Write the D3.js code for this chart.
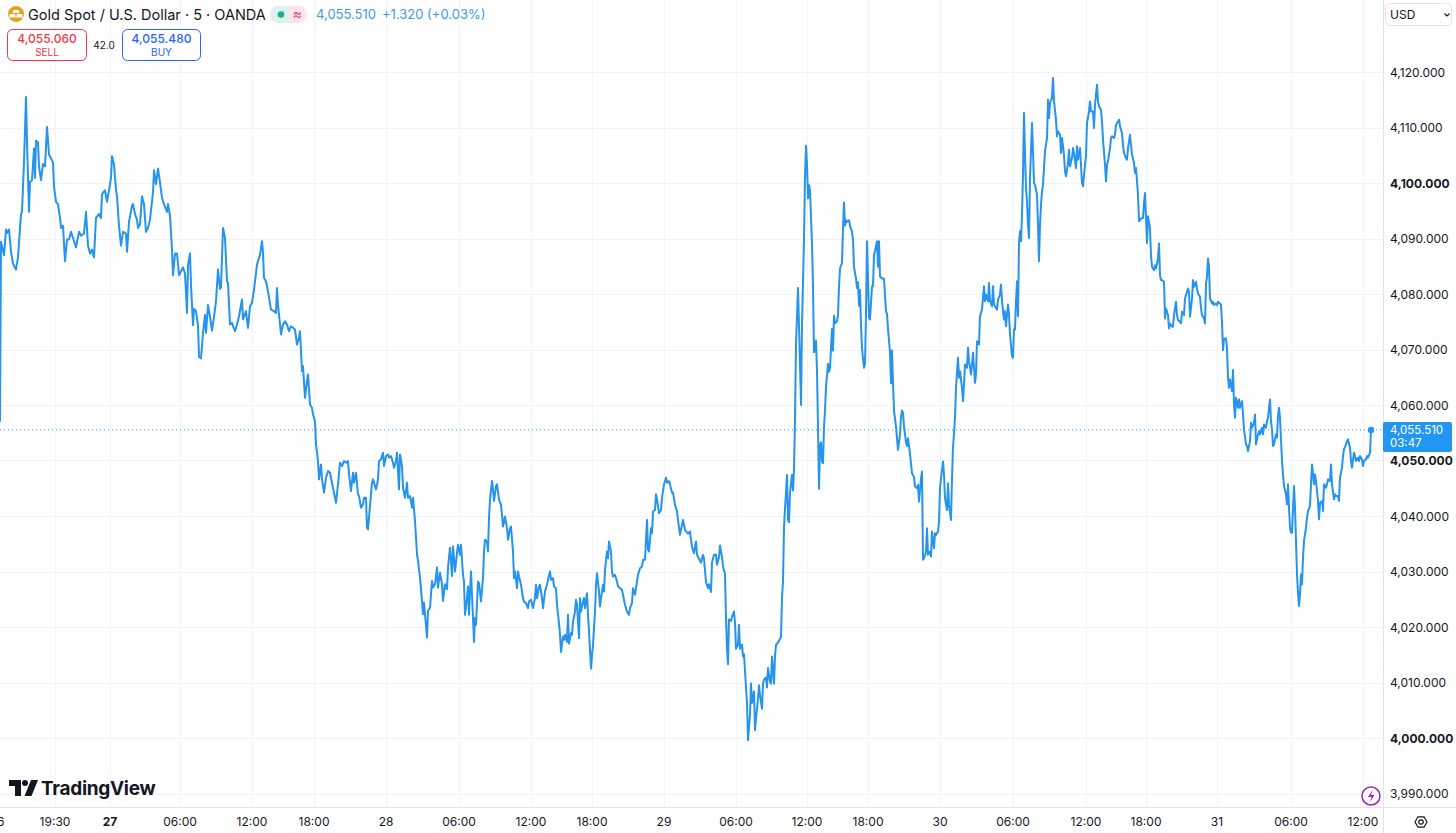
<!DOCTYPE html>
<html>
<head>
<meta charset="utf-8">
<script src="https://cdn.jsdelivr.net/npm/d3@7"></script>
<style>
  body { margin: 0; background: #fff; overflow: hidden; }
  svg { display: block; font-family: Inter, "Noto Sans", sans-serif; }
</style>
</head>
<body>
<div id="chart"></div>
<script>
// time axis: labels and the 5-minute bar they sit on (bar 0 = first visible bar)
const tickLabels = ["26", "19:30", "27", "06:00", "12:00", "18:00", "28", "06:00", "12:00", "18:00",
  "29", "06:00", "12:00", "18:00", "30", "06:00", "12:00", "18:00", "31", "06:00", "12:00"];
const tickBars = [-3, 55, 110, 180, 252, 314, 386, 459, 531, 592,
  664, 736, 807, 868, 940, 1013, 1086, 1146, 1217, 1291, 1363];
const boldTicks = ["27"];

const priceTicks = [3990, 4000, 4010, 4020, 4030, 4040, 4050, 4060, 4070, 4080, 4090, 4100, 4110, 4120];
const boldPrices = [4000, 4050, 4100];

// XAUUSD 5m closes
const bars = [
  0, 1, 4, 6, 7, 9, 11, 13, 16, 18, 21, 22, 24, 26, 27, 29, 30, 32, 34, 35, 36, 38, 39, 41, 43, 45, 47, 49, 50, 53,
  54, 56, 58, 60, 61, 63, 65, 67, 69, 71, 73, 76, 79, 81, 84, 86, 88, 90, 92, 94, 96, 99, 101, 102, 105, 107, 109, 111, 112, 114,
  116, 117, 119, 121, 123, 126, 127, 129, 132, 133, 135, 137, 138, 140, 142, 144, 146, 148, 150, 153, 154, 156, 158, 160, 162, 164, 167, 168, 170, 172,
  173, 175, 177, 179, 181, 183, 185, 187, 188, 190, 191, 193, 194, 196, 198, 199, 201, 203, 205, 206, 208, 210, 212, 214, 216, 218, 220, 221, 223, 225,
  227, 228, 230, 232, 233, 235, 237, 239, 242, 243, 246, 248, 250, 252, 254, 257, 258, 260, 262, 263, 264, 266, 268, 271, 274, 276, 277, 278, 280, 281,
  283, 285, 287, 289, 291, 293, 295, 297, 299, 300, 302, 303, 305, 307, 308, 310, 312, 313, 315, 316, 318, 319, 321, 322, 324, 326, 328, 330, 332, 334,
  336, 338, 340, 342, 344, 346, 348, 349, 351, 353, 354, 356, 358, 359, 361, 363, 364, 366, 367, 368, 370, 372, 373, 376, 378, 379, 381, 383, 384, 386,
  388, 389, 391, 393, 394, 396, 397, 399, 400, 402, 403, 405, 407, 408, 410, 412, 413, 415, 417, 418, 420, 422, 423, 424, 425, 427, 428, 430, 432, 433,
  435, 437, 438, 440, 442, 443, 445, 447, 448, 450, 452, 453, 454, 455, 457, 458, 460, 461, 463, 464, 465, 467, 468, 469, 470, 471, 473, 474, 475, 476,
  478, 479, 481, 483, 484, 485, 487, 488, 489, 490, 492, 493, 494, 496, 497, 499, 501, 502, 503, 505, 507, 508, 510, 511, 513, 514, 515, 517, 518, 519,
  521, 523, 524, 526, 528, 529, 531, 533, 535, 536, 537, 539, 540, 542, 543, 545, 547, 548, 550, 551, 553, 554, 556, 557, 559, 560, 561, 563, 564, 565,
  567, 568, 569, 571, 572, 573, 575, 576, 577, 579, 580, 581, 583, 584, 585, 587, 588, 589, 591, 592, 593, 595, 596, 597, 599, 600, 601, 603, 604, 605,
  607, 608, 609, 611, 612, 613, 615, 617, 618, 620, 622, 623, 625, 627, 629, 630, 632, 633, 635, 637, 638, 640, 642, 643, 645, 647, 648, 649, 651, 652,
  653, 655, 656, 657, 659, 661, 662, 664, 666, 667, 669, 670, 672, 673, 675, 677, 678, 680, 682, 683, 685, 688, 690, 692, 694, 696, 697, 699, 701, 703,
  704, 706, 708, 709, 711, 712, 714, 716, 717, 719, 720, 722, 723, 725, 726, 727, 728, 729, 731, 732, 734, 735, 736, 738, 739, 740, 742, 743, 744, 746,
  747, 748, 750, 751, 752, 754, 755, 756, 758, 759, 760, 762, 763, 764, 766, 767, 768, 770, 771, 772, 774, 775, 776, 778, 779, 781, 782, 783, 784, 785,
  786, 787, 788, 789, 790, 792, 793, 794, 795, 796, 798, 799, 800, 801, 802, 804, 805, 806, 807, 808, 809, 810, 812, 813, 814, 816, 817, 818, 819, 820,
  821, 822, 823, 824, 825, 826, 828, 829, 830, 832, 833, 834, 835, 837, 838, 839, 840, 842, 843, 844, 845, 846, 847, 849, 850, 852, 853, 854, 856, 857,
  858, 859, 860, 861, 862, 864, 865, 866, 867, 868, 869, 870, 872, 873, 874, 875, 877, 878, 879, 880, 882, 883, 884, 886, 887, 888, 890, 891, 892, 893,
  894, 896, 897, 898, 900, 901, 902, 903, 904, 906, 907, 908, 910, 911, 912, 914, 915, 917, 918, 919, 921, 922, 923, 924, 926, 927, 928, 930, 931, 932,
  934, 935, 936, 938, 939, 940, 941, 943, 944, 945, 947, 948, 949, 951, 952, 953, 955, 956, 958, 959, 960, 962, 963, 964, 965, 967, 968, 969, 971, 972,
  973, 975, 976, 977, 979, 980, 981, 982, 984, 985, 986, 988, 989, 990, 992, 993, 994, 996, 997, 998, 1000, 1001, 1002, 1004, 1005, 1006, 1008, 1009, 1010, 1012,
  1013, 1014, 1015, 1016, 1017, 1018, 1019, 1020, 1021, 1022, 1023, 1024, 1025, 1026, 1027, 1028, 1029, 1030, 1032, 1033, 1034, 1035, 1037, 1038, 1039, 1040, 1041, 1042, 1043, 1045,
  1046, 1047, 1048, 1049, 1050, 1052, 1053, 1054, 1056, 1057, 1058, 1060, 1061, 1062, 1064, 1065, 1066, 1068, 1069, 1070, 1072, 1073, 1074, 1076, 1077, 1078, 1080, 1081, 1082, 1083,
  1085, 1086, 1087, 1089, 1090, 1091, 1093, 1094, 1095, 1097, 1098, 1099, 1101, 1102, 1103, 1105, 1106, 1107, 1108, 1110, 1111, 1112, 1114, 1115, 1116, 1118, 1119, 1120, 1122, 1123,
  1124, 1126, 1127, 1128, 1130, 1131, 1132, 1134, 1135, 1136, 1138, 1139, 1140, 1142, 1143, 1144, 1145, 1146, 1147, 1148, 1150, 1151, 1152, 1154, 1155, 1156, 1158, 1159, 1160, 1161,
  1162, 1164, 1165, 1166, 1168, 1169, 1170, 1172, 1173, 1174, 1176, 1177, 1178, 1180, 1181, 1182, 1184, 1185, 1186, 1188, 1189, 1190, 1192, 1193, 1194, 1196, 1197, 1198, 1200, 1201,
  1202, 1204, 1205, 1206, 1207, 1208, 1209, 1210, 1212, 1213, 1214, 1216, 1217, 1218, 1220, 1221, 1222, 1223, 1224, 1226, 1227, 1228, 1229, 1230, 1232, 1233, 1234, 1235, 1236, 1238,
  1239, 1240, 1242, 1243, 1244, 1246, 1247, 1248, 1250, 1251, 1252, 1254, 1255, 1256, 1258, 1259, 1260, 1262, 1263, 1264, 1266, 1267, 1268, 1270, 1271, 1272, 1273, 1274, 1276, 1277,
  1278, 1279, 1280, 1282, 1283, 1284, 1286, 1287, 1288, 1289, 1290, 1291, 1292, 1294, 1295, 1296, 1297, 1298, 1299, 1300, 1301, 1302, 1303, 1304, 1306, 1307, 1308, 1310, 1311, 1312,
  1314, 1315, 1316, 1318, 1319, 1320, 1322, 1323, 1324, 1326, 1327, 1328, 1330, 1331, 1332, 1334, 1335, 1336, 1338, 1339, 1340, 1342, 1343, 1344, 1346, 1347, 1348, 1350, 1351, 1352,
  1354, 1355, 1356, 1358, 1359, 1360, 1362, 1363, 1364, 1366, 1367, 1368, 1370, 1371
];
const prices = [
  4057, 4089.4, 4087, 4091.6, 4091, 4091.6, 4087.6, 4085.5, 4084.4, 4086.6, 4094.4, 4094.8, 4103.7, 4115.5, 4107.3, 4094.8, 4100.2, 4100.5, 4106.2, 4100.9, 4107.6, 4107.3, 4103, 4100.5, 4103.4, 4103, 4110.1, 4105.1, 4104.8, 4103.7,
  4099.4, 4096.6, 4096.2, 4093.7, 4091.9, 4092.3, 4085.9, 4089.8, 4089.8, 4091.2, 4090.1, 4088.4, 4091.2, 4090.5, 4090.9, 4094.8, 4088.7, 4087.3, 4088, 4086.6, 4093.7, 4094.4, 4093.7, 4098, 4098.7, 4096.6, 4098.7, 4100.9, 4104.8, 4103.4,
  4098.7, 4097.6, 4092.3, 4088.7, 4091.2, 4090.9, 4087.6, 4093, 4095.9, 4096.2, 4094.4, 4093.4, 4091.9, 4092.6, 4097.6, 4096.2, 4091.2, 4091.9, 4093.4, 4098.3, 4102.3, 4099.8, 4102.6, 4100.1, 4097.3, 4096.2, 4094.8, 4096.2, 4094.1, 4088,
  4083.4, 4087.3, 4087.3, 4083.4, 4084.1, 4084.8, 4083.7, 4076.6, 4085.2, 4087.3, 4081.6, 4074.4, 4077.3, 4076.9, 4074.4, 4068.7, 4068.4, 4073, 4076.2, 4073, 4078, 4075.9, 4073.4, 4075.9, 4078.7, 4084.4, 4080.9, 4081.2, 4091.9, 4090.1,
  4082.3, 4082, 4074.5, 4074.8, 4074.2, 4073.3, 4074.5, 4076, 4079, 4075.4, 4076.9, 4073.9, 4077.8, 4078.4, 4080.8, 4085.3, 4085.9, 4087.1, 4089.5, 4087.4, 4082.9, 4082.3, 4080.5, 4077.2, 4076.9, 4076.6, 4081.1, 4078.1, 4074.5, 4072.7,
  4074.5, 4075.1, 4074.5, 4073.3, 4074.2, 4073.9, 4073.6, 4070.9, 4072.1, 4073.3, 4066.1, 4067, 4061.3, 4064.3, 4065.5, 4060.1, 4059.5, 4058.3, 4057.1, 4052.9, 4049.9, 4046.6, 4049.3, 4046.6, 4044.2, 4046.9, 4048.1, 4047.8, 4046, 4044.2,
  4042.4, 4045.7, 4049.6, 4049, 4049.9, 4049.6, 4049.9, 4047.5, 4044.5, 4047.8, 4046, 4047.8, 4043.9, 4043.6, 4041.5, 4042.1, 4043.3, 4043.3, 4037.9, 4037.6, 4041.8, 4046, 4046.6, 4044.8, 4046.6, 4049.9, 4050.2, 4051.4, 4049, 4050.8,
  4051.1, 4050.5, 4050.8, 4049.6, 4048.7, 4049.9, 4051.4, 4044.8, 4051.1, 4049, 4045.1, 4043.3, 4046, 4043.3, 4043.6, 4041.5, 4043.3, 4039.1, 4033.1, 4031.9, 4028.9, 4024.7, 4022.3, 4024.4, 4022.3, 4018.1, 4022.9, 4023.5, 4028.3, 4027.1,
  4027.7, 4030.7, 4027.1, 4029.8, 4027.7, 4024.7, 4027.7, 4026.8, 4030.7, 4034.3, 4029.2, 4034.5, 4032.4, 4030, 4033.3, 4034.8, 4033, 4034.8, 4029.4, 4028.2, 4022.2, 4025.2, 4027.3, 4022.2, 4026.4, 4030, 4021.6, 4017.3, 4021.6, 4020.4,
  4028.2, 4027.9, 4024.6, 4028.8, 4033.6, 4035.7, 4035.4, 4033.6, 4039.6, 4043, 4046.3, 4044.8, 4042.7, 4045.4, 4045.7, 4043, 4042, 4040.2, 4038.1, 4039.9, 4037.8, 4035.7, 4037.8, 4038.1, 4033.6, 4028.8, 4030, 4027, 4030, 4029.1,
  4027.6, 4025.2, 4024.6, 4024.3, 4023.4, 4024.6, 4024.9, 4023.4, 4025.2, 4027.6, 4025.2, 4027.3, 4027.6, 4025.2, 4023.4, 4026.4, 4027.6, 4028.5, 4030, 4028.5, 4028.8, 4027.3, 4027, 4024, 4020.7, 4018.6, 4015.5, 4018.3, 4017.7, 4018.6,
  4017.3, 4022.2, 4017, 4018.9, 4018.6, 4021, 4022.8, 4024.9, 4024, 4018, 4025.2, 4022.8, 4024.6, 4025.2, 4023.4, 4026.1, 4022.2, 4019.2, 4012.5, 4014.9, 4016.7, 4022.8, 4027.6, 4029.7, 4026.4, 4023.7, 4025.2, 4027.6, 4026.4, 4030.3,
  4033.6, 4032.4, 4035.4, 4033.6, 4030, 4029.1, 4029.4, 4028.2, 4027.3, 4027, 4026.7, 4025.8, 4024, 4022.8, 4022.2, 4023.4, 4024.3, 4027, 4025.8, 4028.2, 4029.4, 4030.6, 4030.9, 4032.1, 4032.1, 4039.3, 4033.9, 4033.6, 4037.8, 4036.9,
  4040.8, 4041.1, 4043.9, 4043, 4040.5, 4041.1, 4043.3, 4045.7, 4046.9, 4046, 4046.3, 4045.7, 4044.2, 4044.2, 4042, 4040.8, 4039.3, 4036.6, 4038.4, 4039.3, 4037.5, 4036.8, 4037.2, 4034.4, 4033.3, 4035.4, 4033, 4032.3, 4031.6, 4033,
  4032.3, 4028.1, 4027, 4027.7, 4026.3, 4031.6, 4033, 4033, 4031.2, 4032.6, 4034.7, 4032.6, 4030.9, 4029.5, 4021.8, 4016.1, 4013.3, 4021.4, 4021.1, 4021.8, 4022.8, 4020.7, 4016.1, 4016.8, 4020.4, 4016.1, 4016.8, 4014.7, 4015.1, 4009.1,
  4006.3, 3999.6, 4004.2, 4009.8, 4006.3, 4008.4, 4001.4, 4003.5, 4007, 4009.5, 4007.7, 4005.3, 4009.8, 4010.5, 4010.9, 4009.1, 4012.6, 4010.2, 4009.8, 4014.7, 4009.8, 4014.7, 4016.8, 4017.2, 4017.5, 4018.2, 4025.3, 4028.1, 4037.9, 4041.4,
  4044.2, 4047.4, 4039.3, 4038.9, 4044.2, 4047.4, 4044.6, 4048.4, 4057.5, 4070.9, 4081.1, 4074.4, 4067.4, 4060, 4074.4, 4089.8, 4101.1, 4106.7, 4103.5, 4097.2, 4099.6, 4098.6, 4089.1, 4081.4, 4069.5, 4071.6, 4066, 4056.1, 4044.9, 4052.6,
  4053.3, 4049.8, 4049.5, 4056.1, 4059, 4063.2, 4067.4, 4066, 4066.7, 4073.7, 4069.8, 4076.1, 4074.7, 4075.1, 4076.1, 4081.4, 4084.6, 4085.6, 4091.9, 4096.5, 4092.3, 4093.3, 4093, 4093.3, 4092.3, 4091.2, 4089.8, 4084.9, 4082.8, 4081.1,
  4082.1, 4077.9, 4080.7, 4074.4, 4070.2, 4066.7, 4067.4, 4076.5, 4089.5, 4082.8, 4075.8, 4075.4, 4081.4, 4081.4, 4087, 4087.7, 4089.5, 4084.9, 4089.5, 4083.2, 4082.8, 4082.8, 4082.8, 4076.8, 4076.5, 4073.7, 4069.5, 4063.9, 4069.8, 4063.9,
  4059, 4056.1, 4054, 4051.9, 4054.7, 4057.9, 4059, 4058.6, 4056.1, 4053.3, 4052.6, 4054, 4051.2, 4049.5, 4047.7, 4047, 4045.3, 4045, 4045.6, 4042.6, 4046.8, 4048, 4032.1, 4032.4, 4033.6, 4037.8, 4033, 4033.6, 4032.7, 4037.2,
  4034.2, 4036.9, 4036.6, 4037.2, 4039, 4045, 4046.8, 4049.8, 4047.4, 4043.2, 4041.1, 4045.9, 4042, 4039.3, 4046.8, 4052.3, 4057.7, 4063.1, 4068.5, 4064.9, 4066.1, 4063.1, 4060.7, 4063.7, 4067.3, 4066.7, 4070.3, 4067.9, 4065.5, 4067.3,
  4069.4, 4064, 4065.5, 4071.5, 4070.9, 4076, 4076.6, 4077.2, 4081.4, 4078.7, 4079.9, 4078.7, 4082, 4078.7, 4077.8, 4081.4, 4078.1, 4077.5, 4077.2, 4079, 4079.9, 4081.7, 4078.7, 4075.4, 4076.9, 4074.2, 4078.1, 4076.3, 4072.7, 4068.8,
  4068.5, 4073.6, 4073.6, 4078.7, 4082.3, 4076, 4089.2, 4091.3, 4089.5, 4094.3, 4101.5, 4112.6, 4105.1, 4099.1, 4096.7, 4092.5, 4090.1, 4100.9, 4110.8, 4105.7, 4100, 4099.7, 4097.9, 4092.5, 4085.9, 4092.5, 4096.1, 4098.5, 4099.7, 4105.7,
  4106.9, 4108.1, 4115, 4111.7, 4114.4, 4115.3, 4118.9, 4114.7, 4111.4, 4108.4, 4109.3, 4108.7, 4105.4, 4108.1, 4105.1, 4102.1, 4101.2, 4103.6, 4106, 4103, 4104.5, 4106.3, 4105.4, 4102.7, 4106.6, 4104.2, 4106.3, 4103.3, 4100, 4099.4,
  4103.3, 4104.8, 4110.8, 4112.9, 4114.7, 4112.9, 4112.9, 4109.9, 4114.1, 4117.7, 4114.7, 4113.8, 4113.2, 4111.1, 4107.8, 4103.3, 4100.3, 4103.3, 4103.9, 4106.3, 4108.1, 4108.4, 4108.1, 4108.7, 4110.5, 4111.1, 4111.4, 4110.2, 4109, 4106.9,
  4105.4, 4104.5, 4104.2, 4106.3, 4108.7, 4106.9, 4105.1, 4103.6, 4101.8, 4102.7, 4097.9, 4093.1, 4093.4, 4093.7, 4093.7, 4096.4, 4098.2, 4093.7, 4089.2, 4094, 4091.8, 4087, 4084.9, 4084.3, 4085.2, 4084.6, 4086.4, 4089.1, 4083.4, 4082.5,
  4082.5, 4082.2, 4075.6, 4077.4, 4076.2, 4073.8, 4074.7, 4074.1, 4074.1, 4076.2, 4078.6, 4076.2, 4075.3, 4075, 4074.7, 4076.8, 4076.2, 4079.2, 4079.8, 4081, 4080.4, 4075.9, 4079.2, 4082.5, 4081.3, 4082.2, 4081, 4080.1, 4079.5, 4077.4,
  4076.2, 4075.6, 4074.7, 4081.9, 4083.1, 4086.4, 4084.9, 4079.2, 4078.3, 4078.6, 4078, 4078.3, 4078, 4078.6, 4078.3, 4078, 4075, 4069.9, 4072, 4072, 4070.2, 4064.9, 4063.1, 4064.6, 4062.5, 4066.3, 4060.1, 4057.7, 4061.3, 4059.5,
  4061, 4059.5, 4060.7, 4058.3, 4055.6, 4052.9, 4052.6, 4051.7, 4053.5, 4056.8, 4055.9, 4056.8, 4058.3, 4052.9, 4054.7, 4055.3, 4054.7, 4055.9, 4054.7, 4056.5, 4055.9, 4057.1, 4057.7, 4061, 4057.1, 4055.6, 4052.6, 4052.9, 4054.7, 4054.1,
  4058, 4059.5, 4057.7, 4049.9, 4047.5, 4045.4, 4043.9, 4042.1, 4045.7, 4041.5, 4037.9, 4037, 4037, 4045.4, 4041.5, 4035.5, 4029.5, 4026.2, 4023.8, 4025.9, 4029.5, 4027.7, 4032.5, 4035.5, 4037.9, 4039.7, 4040.9, 4041.8, 4045.7, 4049.3,
  4045.7, 4047.5, 4046.3, 4042.7, 4039.4, 4042.4, 4042.7, 4040.9, 4045.7, 4045.1, 4045.7, 4046.6, 4046.3, 4049.3, 4045.7, 4043, 4043.9, 4043.6, 4043.6, 4042.7, 4046.9, 4048.7, 4050.8, 4052, 4052.9, 4053.5, 4053.8, 4052.3, 4049.9, 4048.7,
  4051.4, 4050.8, 4049.9, 4050.5, 4049.9, 4050.8, 4050.2, 4049, 4049.9, 4050.2, 4050.8, 4050.5, 4051.4, 4055.51
];

const lastPrice = 4055.51;
const countdown = "03:47";
const symbolTitle = "Gold Spot / U.S. Dollar · 5 · OANDA";
const lastText = "4,055.510";
const changeText = "+1.320 (+0.03%)";
const sellPrice = "4,055.060", buyPrice = "4,055.480", spread = "42.0";

const W = 1456, H = 833;
const plotRight = 1383, axisTop = 807;
const fmt = d3.format(",.3f");

const svg = d3.select("#chart").append("svg")
  .attr("width", W).attr("height", H);

const x = d3.scaleLinear().domain([0, plotRight]).range([0, plotRight]);
const y = d3.scaleLinear().domain([4000, 4120]).range([738, 72]);

// grid
svg.append("g").selectAll("line").data(tickBars).enter().append("line")
  .attr("x1", d => x(d) + 0.5).attr("x2", d => x(d) + 0.5)
  .attr("y1", 0).attr("y2", axisTop)
  .attr("stroke", "#f0f3fa");
svg.append("g").selectAll("line").data(priceTicks).enter().append("line")
  .attr("x1", 0).attr("x2", plotRight)
  .attr("y1", d => Math.round(y(d)) + 0.5).attr("y2", d => Math.round(y(d)) + 0.5)
  .attr("stroke", "#f0f3fa");

// axis borders
svg.append("line").attr("x1", plotRight + 0.5).attr("x2", plotRight + 0.5)
  .attr("y1", 0).attr("y2", H).attr("stroke", "#e0e3eb");
svg.append("line").attr("x1", 0).attr("x2", W)
  .attr("y1", axisTop + 0.5).attr("y2", axisTop + 0.5).attr("stroke", "#e0e3eb");

svg.append("clipPath").attr("id", "plot")
  .append("rect").attr("width", plotRight).attr("height", axisTop);
const plot = svg.append("g").attr("clip-path", "url(#plot)");

// last price dotted line
plot.append("line")
  .attr("x1", 0).attr("x2", plotRight)
  .attr("y1", y(lastPrice)).attr("y2", y(lastPrice))
  .attr("stroke", "#2196f3").attr("stroke-dasharray", "1,3");

const line = d3.line()
  .x((d, i) => x(bars[i]))
  .y(d => y(d));
plot.append("path")
  .datum(prices)
  .attr("d", line)
  .attr("fill", "none")
  .attr("stroke", "#2693ec")
  .attr("stroke-width", 2)
  .attr("stroke-linejoin", "round");
plot.append("circle")
  .attr("cx", x(bars[bars.length - 1])).attr("cy", y(lastPrice))
  .attr("r", 3.2).attr("fill", "#2196f3");

// right price axis
svg.append("g").selectAll("text").data(priceTicks).enter().append("text")
  .attr("x", 1390).attr("y", d => y(d) + 4.5)
  .attr("font-size", 12)
  .attr("font-weight", d => boldPrices.includes(d) ? 700 : 400)
  .attr("fill", "#131722")
  .text(d => fmt(d));

// last price label
const lp = svg.append("g");
lp.append("rect").attr("x", plotRight).attr("y", y(lastPrice) - 8)
  .attr("width", 69).attr("height", 30).attr("rx", 2).attr("fill", "#2196f3");
lp.append("text").attr("x", 1390).attr("y", y(lastPrice) + 4)
  .attr("font-size", 11.5).attr("fill", "#fff").text(fmt(lastPrice));
lp.append("text").attr("x", 1390).attr("y", y(lastPrice) + 17.5)
  .attr("font-size", 11.5).attr("fill", "#fff").text(countdown);

// time axis
svg.append("g").selectAll("text").data(tickLabels).enter().append("text")
  .attr("x", (d, i) => x(tickBars[i]))
  .attr("y", 826)
  .attr("text-anchor", "middle")
  .attr("font-size", 12)
  .attr("font-weight", d => boldTicks.includes(d) ? 700 : 400)
  .attr("fill", "#131722")
  .text(d => d);

// header
const hd = svg.append("g");
hd.append("circle").attr("cx", 16).attr("cy", 14).attr("r", 8).attr("fill", "#e3a21a");
hd.append("path").attr("d", "M13.5 10h5l1 3h-7z M10 14h5l1 3.5h-7z M17 14h5l1 3.5h-7z")
  .attr("fill", "#fff");
hd.append("text").attr("x", 28).attr("y", 19.5).attr("font-size", 14.5)
  .attr("fill", "#131722").text(symbolTitle);
hd.append("rect").attr("x", 270).attr("y", 6).attr("width", 37).attr("height", 17)
  .attr("rx", 8.5).attr("fill", "#fde4ec");
hd.append("path").attr("d", "M278.5 6h10v17h-10a8.5 8.5 0 0 1 0 -17z").attr("fill", "#dcf3ec");
hd.append("circle").attr("cx", 281).attr("cy", 14.5).attr("r", 3.3).attr("fill", "#22ab94");
hd.append("text").attr("x", 297.5).attr("y", 19).attr("text-anchor", "middle")
  .attr("font-size", 14).attr("fill", "#e5397a").text("≈");
hd.append("text").attr("x", 316).attr("y", 19).attr("font-size", 13)
  .attr("fill", "#3c9be6").text(lastText);
hd.append("text").attr("x", 382).attr("y", 19).attr("font-size", 13)
  .attr("fill", "#3c9be6").text(changeText);

// sell / buy buttons
const btn = [
  { x: 7.5, w: 79, price: sellPrice, label: "SELL", color: "#f23645" },
  { x: 122.5, w: 78, price: buyPrice, label: "BUY", color: "#2962ff" }
];
const bg = svg.append("g").selectAll("g").data(btn).enter().append("g");
bg.append("rect").attr("x", d => d.x).attr("y", 29.5).attr("width", d => d.w).attr("height", 31)
  .attr("rx", 5).attr("fill", "#fff").attr("stroke", d => d.color);
bg.append("text").attr("x", d => d.x + d.w / 2).attr("y", 43).attr("text-anchor", "middle")
  .attr("font-size", 12).attr("font-weight", 500).attr("fill", d => d.color).text(d => d.price);
bg.append("text").attr("x", d => d.x + d.w / 2).attr("y", 56).attr("text-anchor", "middle")
  .attr("font-size", 10).attr("fill", d => d.color).text(d => d.label);
svg.append("text").attr("x", 104).attr("y", 49).attr("text-anchor", "middle")
  .attr("font-size", 10).attr("fill", "#131722").text(spread);

// currency box
svg.append("rect").attr("x", 1385.5).attr("y", 3.5).attr("width", 66).attr("height", 22)
  .attr("rx", 4).attr("fill", "#fff").attr("stroke", "#e0e3eb");
svg.append("text").attr("x", 1390).attr("y", 18.5).attr("font-size", 12)
  .attr("fill", "#131722").text("USD");
svg.append("path").attr("d", "M1444.5 13.5l2.5 2.5l2.5 -2.5").attr("fill", "none")
  .attr("stroke", "#131722").attr("stroke-width", 1.2);

// TradingView logo
const logo = svg.append("g");
logo.append("path").attr("d", "M9 780h12v16h-6v-10h-6z").attr("fill", "#131722");
logo.append("circle").attr("cx", 25).attr("cy", 783).attr("r", 3).attr("fill", "#131722");
logo.append("path").attr("d", "M31 780h7l-6.5 16h-7z").attr("fill", "#131722");
logo.append("text").attr("x", 41).attr("y", 795).attr("font-size", 19).attr("font-weight", 700)
  .attr("letter-spacing", -0.3).attr("fill", "#131722").text("TradingView");

// lightning icon
svg.append("circle").attr("cx", 1371).attr("cy", 796).attr("r", 9)
  .attr("fill", "#fff").attr("stroke", "#9c27b0").attr("stroke-width", 1.5);
svg.append("path").attr("d", "M1372.5 790l-4.5 7h3.5l-1.5 5l4.5 -7h-3.5z").attr("fill", "#9c27b0");

// settings gear
svg.append("path").attr("d", "M1415 822l3 -5.2h6l3 5.2l-3 5.2h-6z").attr("fill", "none")
  .attr("stroke", "#131722").attr("stroke-width", 1.2);
svg.append("circle").attr("cx", 1421).attr("cy", 822).attr("r", 2.2).attr("fill", "none")
  .attr("stroke", "#131722").attr("stroke-width", 1.2);
</script>
</body>
</html>
